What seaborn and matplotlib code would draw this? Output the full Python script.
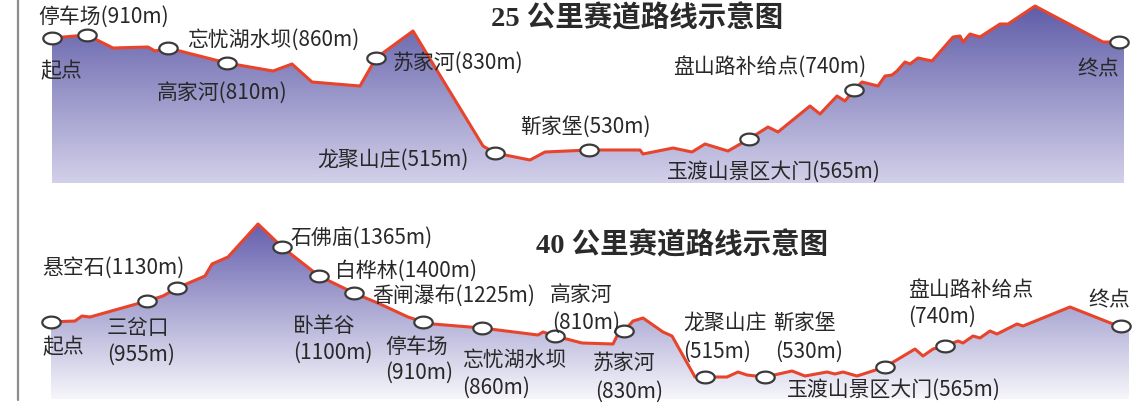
import numpy as np
import matplotlib
matplotlib.use("Agg")
import matplotlib.pyplot as plt
import seaborn as sns
from matplotlib.path import Path
from matplotlib.markers import MarkerStyle
from matplotlib.colors import LinearSegmentedColormap
from matplotlib.lines import Line2D

# ---------------- data (relative distance / relative height) -------------
dist25 = [52, 87, 113, 148, 155, 168, 227, 273, 292, 312, 360, 376, 413, 483, 495, 530, 545,
          589, 640, 643, 673, 692, 705, 728, 749, 768, 778, 810, 820, 837, 845, 854, 862, 878,
          885, 892, 897, 905, 910, 918, 932, 953, 960, 963, 970, 980, 1000, 1008, 1035, 1103,
          1119, 1124]
elev25 = [145, 148, 135, 136, 132, 135, 120, 112, 119, 101, 97, 125, 152, 37, 30, 23, 31,
          33, 33, 29, 35, 31, 39, 32, 44, 56, 51, 77, 69, 87, 82, 93, 101, 97,
          107, 108, 112, 121, 119, 125, 122, 146, 147, 141, 149, 146, 159, 159, 177, 141,
          141, 141]
cp25_names = ["起点", "停车场", "忘忧湖水坝", "高家河", "苏家河", "龙聚山庄", "靳家堡",
              "玉渡山景区大门", "盘山路补给点", "终点"]
cp25_dist = [52, 87, 168, 227, 376, 495, 589, 749, 854, 1119]
cp25_elev = [145, 148, 135, 120, 125, 30, 33, 44, 93, 141]

dist40 = [51, 75, 82, 90, 147, 163, 177, 205, 212, 228, 258, 282, 319, 354, 380, 408, 423,
          433, 482, 538, 543, 555, 582, 613, 618, 624, 633, 643, 663, 672, 695, 705, 727,
          738, 747, 765, 792, 805, 827, 835, 843, 857, 885, 915, 923, 933, 945, 958, 963,
          973, 980, 990, 997, 1017, 1023, 1070, 1113, 1121, 1129]
elev40 = [77, 78, 83, 82, 98, 103, 111, 123, 135, 142, 175, 152, 123, 106, 95, 82, 77,
          75, 71, 64, 67, 63, 56, 55, 65, 68, 78, 81, 67, 63, 22, 22, 22,
          27, 24, 22, 28, 23, 27, 25, 27, 23, 32, 50, 43, 50, 53, 58, 56,
          63, 61, 68, 65, 75, 73, 92, 75, 73, 72]
cp40_names = ["起点", "三岔口", "悬空石", "石佛庙", "白桦林", "香闸瀑布", "停车场", "忘忧湖水坝",
              "高家河", "苏家河", "龙聚山庄", "靳家堡", "玉渡山景区大门", "盘山路补给点", "终点"]
cp40_dist = [51, 147, 177, 282, 319, 354, 423, 482, 555, 624, 705, 765, 885, 945, 1121]
cp40_elev = [77, 98, 111, 152, 123, 106, 77, 71, 63, 68, 22, 22, 32, 53, 73]

title25 = "25 公里赛道路线示意图"
title40 = "40 公里赛道路线示意图"
labels25 = ["停车场(910m)", "起点", "忘忧湖水坝(860m)", "高家河(810m)", "苏家河(830m)",
            "龙聚山庄(515m)", "靳家堡(530m)", "盘山路补给点(740m)", "玉渡山景区大门(565m)", "终点"]
labels40 = ["悬空石(1130m)", "起点", "三岔口", "(955m)", "石佛庙(1365m)", "白桦林(1400m)",
            "香闸瀑布(1225m)", "高家河", "(810m)", "卧羊谷", "(1100m)", "停车场", "(910m)",
            "忘忧湖水坝", "(860m)", "苏家河", "(830m)", "龙聚山庄", "(515m)", "靳家堡", "(530m)",
            "玉渡山景区大门(565m)", "盘山路补给点", "(740m)", "终点"]

# ---------------- layout (pixel anchors: left x, centre y) ----------------
pos25 = [(38, 17), (40, 71), (187, 40), (157, 94), (393, 63), (317, 160), (520, 127),
         (673, 67), (667, 172), (1077, 69)]
pos40 = [(42, 268), (42, 347), (107, 328), (107, 355), (290, 238), (335, 271), (372, 297),
         (550, 295), (552, 323), (293, 326), (293, 353), (385, 347), (385, 373),
         (462, 360), (462, 388), (593, 363), (595, 392), (683, 323), (683, 352),
         (773, 323), (775, 352), (787, 390), (908, 290), (908, 317), (1088, 300)]

W, H = 1146, 410
RED = "#e8442c"
TXT = "#282828"

sns.set_theme(style="white")
plt.rcParams["font.family"] = ["Noto Sans CJK SC", "DejaVu Sans"]

fig = plt.figure(figsize=(W / 100, H / 100), dpi=100)
fig.patch.set_facecolor("white")

t = np.linspace(0, 2 * np.pi, 72)
ell = Path(np.column_stack([np.cos(t), 0.64 * np.sin(t)]), closed=True)
ell_marker = MarkerStyle(ell)


def panel(rect, ylim, dist, elev, cpd, cpe, c_top, c_bot):
    ax = fig.add_axes(rect)
    ax.set_facecolor("none")
    top = max(elev)
    cmap = LinearSegmentedColormap.from_list("g", [c_bot, c_top])
    grad = np.linspace(0, 1, 256).reshape(-1, 1)
    im = ax.imshow(grad, cmap=cmap, origin="lower", aspect="auto",
                   extent=[min(dist), max(dist), 0, top], zorder=1)
    poly = ax.fill_between(dist, elev, 0, facecolor="none", edgecolor="none", zorder=1)
    im.set_clip_path(poly.get_paths()[0], transform=ax.transData)
    sns.lineplot(x=dist, y=elev, ax=ax, color=RED, lw=2.2, sort=False, zorder=3,
                 solid_joinstyle="round", estimator=None)
    sns.scatterplot(x=cpd, y=cpe, ax=ax, marker=ell_marker, s=175, facecolor="white",
                    edgecolor="#3a3a3a", linewidth=1.6, zorder=4)
    ax.set_xlim(0, W)
    ax.set_ylim(*ylim)
    ax.set_axis_off()
    return ax


panel([0, 210 / H, 1, 200 / H], (-16, 184), dist25, elev25, cp25_dist, cp25_elev,
      "#605da9", "#d3d0ea")
panel([0, 0, 1, 210 / H], (-10, 200), dist40, elev40, cp40_dist, cp40_elev,
      "#6660ae", "#f6f6fb")


def ptext(x, y, s, **kw):
    fig.text(x / W, 1 - y / H, s, **kw)


for s, (x, y) in zip(labels25, pos25):
    ptext(x, y, s, fontsize=15, color=TXT, ha="left", va="center")
for s, (x, y) in zip(labels40, pos40):
    ptext(x, y, s, fontsize=15, color=TXT, ha="left", va="center")

tfam = ["Liberation Serif", "Noto Sans CJK SC"]
ptext(637, 18, title25, fontsize=20.5, fontweight="bold", color="#2a2a2a",
      ha="center", va="center", family=tfam)
ptext(682, 245, title40, fontsize=20.5, fontweight="bold", color="#2a2a2a",
      ha="center", va="center", family=tfam)

fig.add_artist(Line2D([18 / W, 18 / W], [1, 1 - 401 / H], transform=fig.transFigure,
                      color="#8c8c8c", lw=1.6))

fig.savefig("out.png", dpi=100, facecolor="white")
